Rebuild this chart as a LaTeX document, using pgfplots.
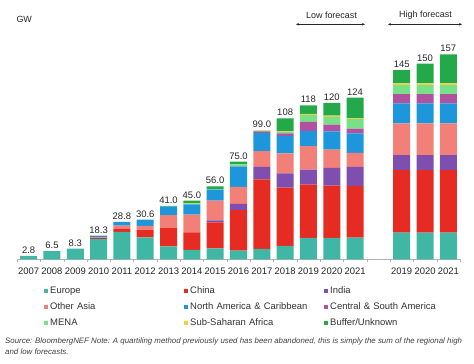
\documentclass[border=0pt]{standalone}
\usepackage{fontspec}
\setmainfont{Liberation Sans}
\usepackage{pgfplots}
\pgfplotsset{compat=1.18}
\usetikzlibrary{arrows.meta}
\definecolor{cEu}{HTML}{40B7A4}
\definecolor{cCn}{HTML}{E62B22}
\definecolor{cIn}{HTML}{7E4FAE}
\definecolor{cOA}{HTML}{F28079}
\definecolor{cNA}{HTML}{1E96DB}
\definecolor{cCSA}{HTML}{B0529F}
\definecolor{cME}{HTML}{78E188}
\definecolor{cSSA}{HTML}{F2D03A}
\definecolor{cBuf}{HTML}{24A94A}
\tikzset{vl/.style={anchor=base, yshift=2.5bp, font=\fontsize{9.5}{11}\selectfont, text=black!85, inner sep=0pt}}
\begin{document}
\begin{tikzpicture}
\useasboundingbox (0,0) rectangle (474bp,364bp);
\begin{axis}[
  at={(17bp,104.5bp)}, anchor=south west,
  width=443bp, height=222bp, scale only axis,
  ybar stacked, bar width=0.73,
  xmin=-0.5, xmax=18.5, ymin=0, ymax=170,
  enlargelimits=false,
  axis x line*=bottom, axis y line=none,
  x axis line style={draw=black!30},
  xtick={0,...,14,16,17,18},
  xticklabels={2007,2008,2009,2010,2011,2012,2013,2014,2015,2016,2017,2018,2019,2020,2021,2019,2020,2021},
  major tick length=0pt,
  minor xtick={-0.5,0.5,...,18.5},
  minor tick length=3bp,
  tick align=outside,
  minor tick style={draw=black!30},
  xticklabel style={font=\fontsize{9.5}{11}\selectfont, text=black!85, yshift=-4.6bp},
  /pgf/number format/assume math mode=true,
  legend columns=3,
  legend image code/.code={\fill[#1] (0.5bp,-2bp) rectangle (4.5bp,2bp);},
  legend style={font=\fontsize{9.5}{11}\selectfont, draw=none, fill=none, inner sep=0pt,
    at={(0.061,-0.106)}, anchor=north west, cells={anchor=west},
    nodes={text width=132bp, inner xsep=2bp, inner ysep=3.5bp, text height=7bp, text depth=2bp, align=left, text=black!80}},
]
\addplot[fill=cEu, draw=none] coordinates {(0,2.8)(1,6.5)(2,8.3)(3,15.8)(4,21.2)(5,17.0)(6,10.0)(7,7.3)(8,8.6)(9,6.8)(10,8.2)(11,10.5)(12,16.5)(13,16.6)(14,16.8)(16,20.5)(17,20.5)(18,20.5)};
\addplot[fill=cCn, draw=none] coordinates {(0,0)(1,0)(2,0)(3,0.5)(4,2.3)(5,5.5)(6,14.0)(7,13.5)(8,19.8)(9,31.0)(10,53.1)(11,44.5)(12,40.8)(13,40.0)(14,39.3)(16,48.0)(17,48.0)(18,48.0)};
\addplot[fill=cIn, draw=none] coordinates {(0,0)(1,0)(2,0)(3,0)(4,0)(5,0)(6,0)(7,0)(8,1.6)(9,4.8)(10,9.7)(11,11.0)(12,11.5)(13,13.5)(14,14.8)(16,11.5)(17,11.5)(18,11.5)};
\addplot[fill=cOA, draw=none] coordinates {(0,0)(1,0)(2,0)(3,0.8)(4,2.5)(5,3.3)(6,10.0)(7,13.5)(8,15.1)(9,13.0)(10,11.9)(11,15.3)(12,18.0)(13,14.0)(14,10.7)(16,24.3)(17,24.3)(18,24.3)};
\addplot[fill=cNA, draw=none] coordinates {(0,0)(1,0)(2,0)(3,1.2)(4,2.8)(5,4.8)(6,6.5)(7,7.9)(8,8.4)(9,15.5)(10,14.1)(11,13.3)(12,11.7)(13,14.0)(14,14.9)(16,15.3)(17,15.3)(18,15.3)};
\addplot[fill=cCSA, draw=none] coordinates {(0,0)(1,0)(2,0)(3,0)(4,0)(5,0)(6,0)(7,0)(8,0)(9,0.3)(10,1.2)(11,2.0)(12,6.8)(13,5.1)(14,3.8)(16,7.1)(17,7.1)(18,7.1)};
\addplot[fill=cME, draw=none] coordinates {(0,0)(1,0)(2,0)(3,0)(4,0)(5,0)(6,0)(7,0.3)(8,0.3)(9,1.5)(10,0.4)(11,1.2)(12,5.5)(13,6.1)(14,7.1)(16,6.9)(17,6.9)(18,6.9)};
\addplot[fill=cSSA, draw=none] coordinates {(0,0)(1,0)(2,0)(3,0)(4,0)(5,0)(6,0)(7,0.5)(8,0)(9,0)(10,0.4)(11,0.3)(12,0.8)(13,0.8)(14,0.8)(16,1.3)(17,1.3)(18,1.3)};
\addplot[fill=cBuf, draw=none] coordinates {(0,0)(1,0)(2,0)(3,0)(4,0)(5,0)(6,0.5)(7,2.0)(8,2.2)(9,2.1)(10,0)(11,9.9)(12,6.4)(13,9.9)(14,15.8)(16,10.1)(17,15.1)(18,22.1)};
\legend{Europe, China, India, Other Asia, North America \& Caribbean, Central \& South America, MENA, Sub-Saharan Africa, Buffer/Unknown}
\node[vl] at (axis cs:0,2.8) {2.8};
\node[vl] at (axis cs:1,6.5) {6.5};
\node[vl] at (axis cs:2,8.3) {8.3};
\node[vl] at (axis cs:3,18.3) {18.3};
\node[vl] at (axis cs:4,28.8) {28.8};
\node[vl] at (axis cs:5,30.6) {30.6};
\node[vl] at (axis cs:6,41.0) {41.0};
\node[vl] at (axis cs:7,45.0) {45.0};
\node[vl] at (axis cs:8,56.0) {56.0};
\node[vl] at (axis cs:9,75.0) {75.0};
\node[vl] at (axis cs:10,99.0) {99.0};
\node[vl] at (axis cs:11,108) {108};
\node[vl] at (axis cs:12,118) {118};
\node[vl] at (axis cs:13,120) {120};
\node[vl] at (axis cs:14,124) {124};
\node[vl] at (axis cs:16,145) {145};
\node[vl] at (axis cs:17,150) {150};
\node[vl] at (axis cs:18,157) {157};
\end{axis}
\node[anchor=west, font=\fontsize{9}{11}\selectfont, text=black!85] at (13bp,345bp) {GW};
\node[font=\fontsize{9}{11}\selectfont, text=black!85] at (331.5bp,348.5bp) {Low forecast};
\node[font=\fontsize{9}{11}\selectfont, text=black!85] at (425.5bp,348.5bp) {High forecast};
\draw[black!85, line width=0.5pt, {Stealth[length=3bp,width=2.5bp]}-{Stealth[length=3bp,width=2.5bp]}] (296bp,339.7bp) -- (365bp,339.7bp);
\draw[black!85, line width=0.5pt, {Stealth[length=3bp,width=2.5bp]}-{Stealth[length=3bp,width=2.5bp]}] (388bp,339.7bp) -- (462bp,339.7bp);
\node[anchor=base west, inner sep=0pt, font=\fontsize{7.9}{9}\selectfont\itshape, text=black!75] at (5bp,20.5bp) {Source: BloombergNEF Note: A quartiling method previously used has been abandoned, this is simply the sum of the regional high};
\node[anchor=base west, inner sep=0pt, font=\fontsize{7.9}{9}\selectfont\itshape, text=black!75] at (5bp,9.5bp) {and low forecasts.};
\end{tikzpicture}
\end{document}
